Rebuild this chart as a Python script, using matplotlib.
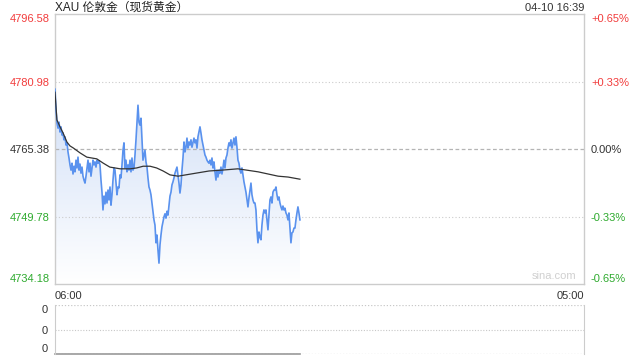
import matplotlib.pyplot as plt
import numpy as np
from matplotlib.colors import LinearSegmentedColormap

# 字体：拉丁字母用 Liberation Sans，中文用 Noto Sans CJK SC
plt.rcParams["font.family"] = ["Liberation Sans", "Noto Sans CJK SC"]

# 文字
title = "XAU 伦敦金（现货黄金）"
stamp = "04-10 16:39"
time_labels = ["06:00", "05:00"]
session_minutes = 1380  # 06:00 -> 次日 05:00
last_minute = 639       # 16:39

# 价格刻度与涨跌幅
price_ticks = [4734.18, 4749.78, 4765.38, 4780.98, 4796.58]
price_labels = ["4734.18", "4749.78", "4765.38", "4780.98", "4796.58"]
pct_labels = ["-0.65%", "-0.33%", "0.00%", "+0.33%", "+0.65%"]
tick_colors = ["#2eaa2e", "#2eaa2e", "#333333", "#f23c3c", "#f23c3c"]

# 分时价格
prices = [
    4779.2, 4774.4, 4771.4, 4770.2, 4771.6, 4769.3, 4770.5, 4768.6, 4769.1, 4767.5,
    4768.2, 4766.3, 4766.8, 4764.7, 4763.3, 4761.7, 4760.5, 4762.1, 4759.6, 4761.4,
    4760.1, 4762.8, 4761.0, 4763.5, 4760.5, 4761.9, 4759.8, 4761.2, 4759.1, 4758.2,
    4757.5, 4759.1, 4761.0, 4762.8, 4760.1, 4762.1, 4759.1, 4761.0, 4762.8, 4761.7,
    4762.4, 4761.2, 4762.8, 4762.1, 4762.6, 4761.7, 4758.2, 4755.4, 4751.3, 4754.5,
    4752.7, 4755.4, 4752.9, 4755.9, 4753.6, 4756.6, 4752.4, 4754.8, 4758.2, 4761.0,
    4760.5, 4757.8, 4754.8, 4756.6, 4756.4, 4759.4, 4758.7, 4761.7, 4765.1, 4766.8,
    4761.0, 4762.8, 4760.1, 4761.7, 4760.5, 4762.8, 4760.1, 4763.3, 4760.5, 4761.0,
    4764.0, 4767.5, 4771.6, 4775.5, 4771.6, 4770.9, 4772.5, 4767.5, 4762.8, 4764.0,
    4765.1, 4762.4, 4761.2, 4758.7, 4756.6, 4755.9, 4754.8, 4752.9, 4750.8, 4749.0,
    4747.8, 4743.7, 4745.5, 4742.0, 4739.0, 4743.2, 4745.5, 4747.4, 4748.5, 4749.7,
    4750.4, 4749.4, 4751.0, 4750.1, 4752.4, 4754.5, 4755.4, 4757.1, 4757.8, 4758.7,
    4759.8, 4760.5, 4761.2, 4759.4, 4757.5, 4755.2, 4757.1, 4760.5, 4763.3, 4767.0,
    4764.7, 4765.8, 4767.9, 4765.6, 4767.0, 4766.3, 4767.5, 4765.8, 4766.8, 4767.9,
    4766.8, 4767.5, 4765.6, 4768.2, 4769.3, 4770.5, 4769.1, 4767.5, 4766.3, 4765.1,
    4764.0, 4763.5, 4762.8, 4762.4, 4762.1, 4762.8, 4761.7, 4763.3, 4761.0, 4762.4,
    4760.1, 4758.2, 4760.5, 4758.9, 4760.5, 4759.8, 4761.2, 4759.6, 4761.0, 4762.8,
    4761.0, 4763.3, 4764.0, 4765.6, 4766.8, 4766.1, 4767.5, 4765.6, 4766.8, 4767.9,
    4766.3, 4768.2, 4765.8, 4762.8, 4762.1, 4760.5, 4759.8, 4761.0, 4759.4, 4757.8,
    4756.6, 4755.4, 4753.6, 4752.0, 4754.1, 4755.9, 4757.5, 4754.8, 4753.6, 4752.9,
    4752.9, 4751.3, 4746.7, 4743.7, 4746.2, 4745.0, 4744.4, 4747.8, 4750.1, 4751.3,
    4750.6, 4751.3, 4749.0, 4746.7, 4750.1, 4753.6, 4754.3, 4752.9, 4755.4, 4755.9,
    4755.9, 4756.6, 4754.8, 4753.6, 4754.3, 4752.9, 4752.0, 4751.3, 4752.2, 4751.3,
    4751.7, 4750.6, 4750.1, 4749.0, 4750.6, 4747.1, 4743.7, 4746.0, 4746.2, 4747.1,
    4747.1, 4749.0, 4750.6, 4752.0, 4750.6, 4749.0,
]

# 均价线
avg_minutes = [0, 5, 13, 21, 31, 39, 48, 65, 83, 109, 126, 143, 170, 196, 213,
               230, 248, 265, 282, 300, 321, 368, 402, 436, 477, 530, 556, 582, 608, 639]
avg_prices = [4778.5, 4772.1, 4770.5, 4769.1, 4767.0, 4766.1, 4765.6, 4764.5, 4763.5,
              4763.1, 4762.1, 4761.2, 4760.8, 4760.8, 4761.0, 4761.4, 4761.4, 4761.0,
              4760.3, 4759.4, 4759.1, 4759.8, 4760.3, 4760.5, 4760.8, 4760.1, 4759.6,
              4759.1, 4758.9, 4758.4]

# 成交量（全为 0）
vol_ticks = [0, 1, 2]
vol_labels = ["0", "0", "0"]

minutes = np.linspace(0, last_minute, len(prices))
volumes = np.zeros(len(prices))

fig = plt.figure(figsize=(6.4, 3.6), dpi=100)
ax = fig.add_axes([55 / 640, 1 - 284 / 360, 529 / 640, 270 / 360])
axv = fig.add_axes([55 / 640, 1 - 354 / 360, 529 / 640, 49 / 360])

ylo, yhi = price_ticks[0], price_ticks[-1]

# 渐变填充
poly = ax.fill_between(minutes, prices, ylo, color="none", lw=0)
cmap = LinearSegmentedColormap.from_list("fade", ["#ffffff", "#d8e4f8"])
grad = np.linspace(0, 1, 256)[:, None]
img = ax.imshow(grad, cmap=cmap, origin="lower", aspect="auto",
                extent=[0, last_minute, ylo, 4772], zorder=1)
img.set_clip_path(poly.get_paths()[0], transform=ax.transData)
ax.set_xlim(0, session_minutes)
ax.set_ylim(ylo, yhi)

# 网格线
for v in price_ticks[1:-1]:
    if v == price_ticks[2]:
        ax.axhline(v, color="#b4b4b4", lw=0.9, ls=(0, (3, 2)), zorder=2)
    else:
        ax.axhline(v, color="#cccccc", lw=0.8, ls=(0, (1, 2)), zorder=2)

ax.plot(minutes, prices, color="#5a92ee", lw=1.2, zorder=3)
ax.plot(avg_minutes, avg_prices, color="#333333", lw=0.9, zorder=4)

for s in ax.spines.values():
    s.set_color("#cccccc")
    s.set_linewidth(1)

ax.set_yticks(price_ticks)
ax.set_yticklabels(price_labels)
ax.tick_params(axis="y", length=0, pad=4, labelsize=8)
for lab, c in zip(ax.get_yticklabels(), tick_colors):
    lab.set_color(c)
ax.get_yticklabels()[0].set_va("bottom")
ax.get_yticklabels()[-1].set_va("top")

ax.set_xticks([0, session_minutes])
ax.set_xticklabels(time_labels)
ax.tick_params(axis="x", length=0, pad=5, labelsize=8, labelcolor="#333333")
ax.get_xticklabels()[0].set_ha("left")
ax.get_xticklabels()[1].set_ha("right")

# 右侧涨跌幅
ax2 = ax.twinx()
ax2.set_ylim(ylo, yhi)
ax2.set_yticks(price_ticks)
ax2.set_yticklabels(pct_labels)
ax2.tick_params(axis="y", length=0, pad=5, labelsize=8)
for lab, c in zip(ax2.get_yticklabels(), tick_colors):
    lab.set_color(c)
ax2.get_yticklabels()[0].set_va("bottom")
ax2.get_yticklabels()[-1].set_va("top")
for s in ax2.spines.values():
    s.set_visible(False)

ax.text(0, 1.011, title, transform=ax.transAxes, fontsize=8.5,
        color="#222222", ha="left", va="baseline")
ax.text(1, 1.011, stamp, transform=ax.transAxes, fontsize=8,
        color="#333333", ha="right", va="baseline")
ax.text(0.985, 0.012, "sina.com", transform=ax.transAxes, fontsize=8,
        color="#d0d0d0", ha="right", va="bottom")

# 成交量区域
axv.set_xlim(0, session_minutes)
axv.set_ylim(vol_ticks[0], vol_ticks[-1])
axv.axhline(vol_ticks[1], color="#c8c8c8", lw=0.8, ls=(0, (1, 1.5)))
axv.axhline(vol_ticks[-1], color="#c8c8c8", lw=0.9, ls=(0, (1, 1.5)))
axv.axhline(vol_ticks[0], color="#c8c8c8", lw=0.9, ls=(0, (1, 1.5)))
axv.plot(minutes, volumes, color="#999999", lw=1.2, clip_on=False)
axv.spines["top"].set_visible(False)
axv.spines["bottom"].set_visible(False)
axv.spines["left"].set_color("#cccccc")
axv.spines["right"].set_color("#cccccc")
axv.set_xticks([])
axv.set_yticks(vol_ticks)
axv.set_yticklabels(vol_labels)
axv.tick_params(axis="y", length=0, pad=5, labelsize=8, labelcolor="#333333")
axv.get_yticklabels()[0].set_va("bottom")
axv.get_yticklabels()[-1].set_va("top")

fig.savefig("out.png", dpi=100)
